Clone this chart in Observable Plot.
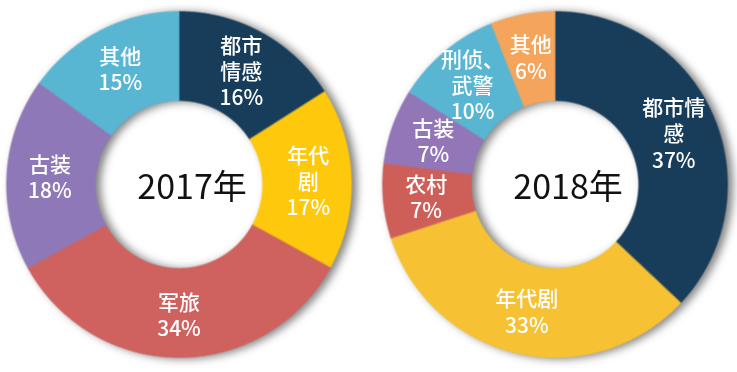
<!DOCTYPE html>
<html>
<head>
<meta charset="utf-8">
<script src="https://cdn.jsdelivr.net/npm/d3@7"></script>
<script src="https://cdn.jsdelivr.net/npm/@observablehq/plot@0.6"></script>
<style>
  html, body { margin: 0; padding: 0; background: #fff; }
  #chart svg { display: block; }
</style>
</head>
<body>
<div id="chart"></div>
<script>
// ---- data ----
const years = ["2017年", "2018年"];

const cats2017 = ["都市情感", "年代剧", "军旅", "古装", "其他"];
const vals2017 = [16, 17, 34, 18, 15];
const names2017 = ["都市\n情感", "年代\n剧", "军旅", "古装", "其他"];
const colors2017 = ["#173d5a", "#fec80c", "#cf625e", "#8f78b7", "#58b6d3"];

const cats2018 = ["都市情感", "年代剧", "农村", "古装", "刑侦、武警", "其他"];
const vals2018 = [37, 33, 7, 7, 10, 6];
const names2018 = ["都市情\n感", "年代剧", "农村", "古装", "刑侦、\n武警", "其他"];
const colors2018 = ["#173d5a", "#f6c233", "#cd5f58", "#9376b8", "#58b6d3", "#f5a55b"];

const series = [
  {year: years[0], cats: cats2017, vals: vals2017, names: names2017, colors: colors2017},
  {year: years[1], cats: cats2018, vals: vals2018, names: names2018, colors: colors2018}
];

const R_OUT = 1, R_IN = 0.485, R_LAB = 0.75;

// build slice polygons and label anchors from the arrays
const polys = [], labels = [];
for (const s of series) {
  const pie = d3.pie().sort(null).value(d => d)(s.vals);
  pie.forEach((p, i) => {
    const key = s.year + "-" + s.cats[i];
    const a0 = p.startAngle, a1 = p.endAngle;
    const n = Math.max(2, Math.ceil((a1 - a0) / (Math.PI / 360)));
    for (let k = 0; k <= n; k++) {
      const a = a0 + (a1 - a0) * k / n;
      polys.push({year: s.year, key, color: s.colors[i], x: R_OUT * Math.sin(a), y: R_OUT * Math.cos(a)});
    }
    for (let k = n; k >= 0; k--) {
      const a = a0 + (a1 - a0) * k / n;
      polys.push({year: s.year, key, color: s.colors[i], x: R_IN * Math.sin(a), y: R_IN * Math.cos(a)});
    }
    const am = (a0 + a1) / 2;
    labels.push({year: s.year, x: R_LAB * Math.sin(am), y: R_LAB * Math.cos(am),
                 text: s.names[i] + "\n" + s.vals[i] + "%"});
  });
}
const centers = years.map(y => ({year: y}));

const chart = Plot.plot({
  width: 737,
  height: 372,
  marginLeft: 5,
  marginRight: 9,
  marginTop: 11,
  marginBottom: 15,
  x: {domain: [-1, 1], axis: null},
  y: {domain: [-1, 1], axis: null},
  fx: {domain: years, paddingInner: 0.0822, paddingOuter: 0, axis: null},
  style: {fontFamily: "'Noto Sans CJK SC', 'Noto Sans', sans-serif", background: "#fff"},
  marks: [
    Plot.line(polys, {fx: "year", x: "x", y: "y", z: "key", fill: "color", stroke: "color",
                      strokeWidth: 0.6, curve: "linear-closed"}),
    Plot.text(labels, {fx: "year", x: "x", y: "y", text: "text", fill: "white",
                       fontSize: 21, lineHeight: 1.25, fontWeight: 500}),
    Plot.text(centers, {fx: "year", x: 0, y: 0, text: "year", fill: "#111",
                        fontSize: 34, dx: 13, dy: 4})
  ]
});

d3.select(chart).selectAll('g[aria-label="line"]')
  .style("filter", "drop-shadow(5px 1px 4px rgba(0,0,0,0.5))");

document.getElementById("chart").appendChild(chart);
</script>
</body>
</html>
